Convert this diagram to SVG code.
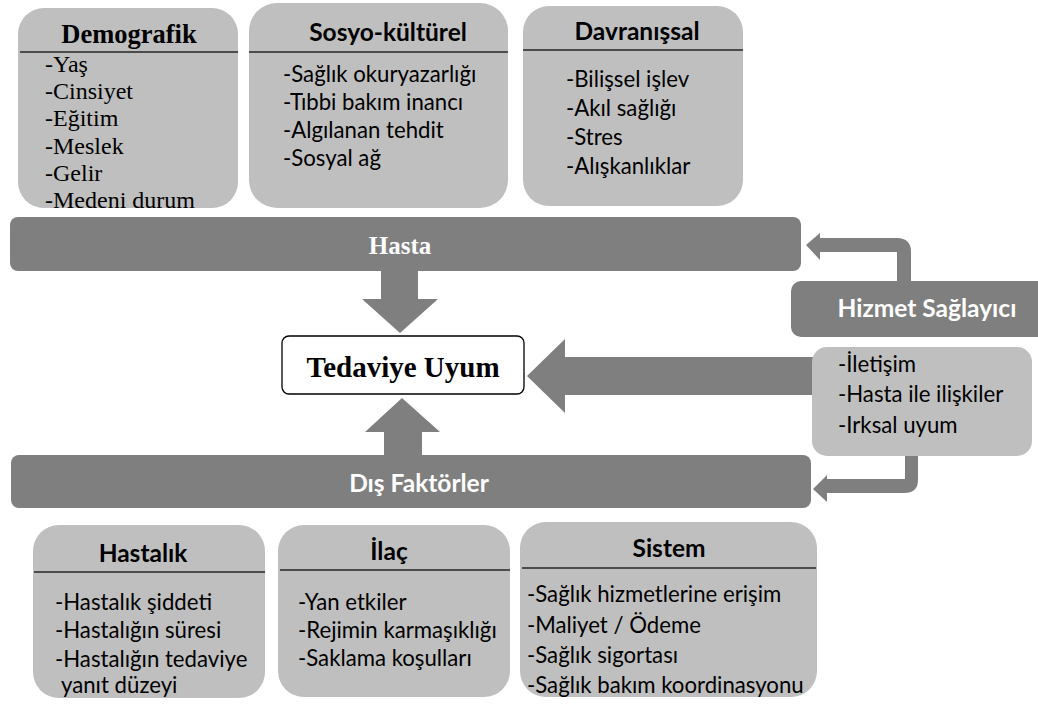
<svg xmlns="http://www.w3.org/2000/svg" width="1038" height="704" viewBox="0 0 1038 704">
  <style>
    .box { fill: #bfbfbf; }
    .bar { fill: #7f7f7f; }
    .div { stroke: #262626; stroke-width: 1.5; }
    .conn { fill: #7f7f7f; }
    .hd { font-family: "Lato", "Liberation Sans", sans-serif; font-weight: bold; font-size: 24.5px; fill: #000; text-anchor: middle; }
    .it { font-family: "Lato", "Liberation Sans", sans-serif; font-size: 22.2px; fill: #000; }
    .hdr { font-family: "Liberation Serif", serif; font-weight: bold; font-size: 26.5px; fill: #000; text-anchor: middle; }
    .itr { font-family: "Liberation Serif", serif; font-size: 24px; fill: #000; }
    .wb { font-family: "Lato", "Liberation Sans", sans-serif; font-weight: bold; font-size: 24.5px; fill: #fff; text-anchor: middle; }
  </style>

  <!-- connectors -->
  <g id="connectors">
    <!-- Hasta down to Tedaviye Uyum -->
    <polygon class="conn" points="381,270 418,270 418,299 438,299 400,333 362,299 381,299"/>
    <!-- Dis Faktorler up to Tedaviye Uyum -->
    <polygon class="conn" points="384,456 422,456 422,432 440,432 402,398 365,432 384,432"/>
    <!-- Hizmet Saglayici left to Tedaviye Uyum -->
    <polygon class="conn" points="815,357 565,357 565,339 527,376 565,413 565,395 815,395"/>
    <!-- Hizmet Saglayici feedback up to Hasta -->
    <path class="conn" d="M897,282 L897,252 L820,252 L820,260 L806,245 L820,233 L820,238 L897,238 Q911,238 911,252 L911,282 Z"/>
    <!-- Hizmet Saglayici feedback down to Dis Faktorler -->
    <path class="conn" d="M905,450 L905,479 L827,479 L827,475 L813,489 L827,502 L827,493 L904,493 Q918,493 918,480 L918,450 Z"/>
  </g>

  <!-- patient factors -->
  <g id="demografik">
    <rect class="box" x="18" y="8" width="220" height="200" rx="26"/>
    <line class="div" x1="20" y1="52" x2="238" y2="52"/>
    <text class="hdr" x="129" y="43">Demografik</text>
    <text class="itr" x="45" y="72">-Yaş</text>
    <text class="itr" x="45" y="99">-Cinsiyet</text>
    <text class="itr" x="45" y="126">-Eğitim</text>
    <text class="itr" x="45" y="154">-Meslek</text>
    <text class="itr" x="45" y="181">-Gelir</text>
    <text class="itr" x="45" y="208">-Medeni durum</text>
  </g>

  <g id="sosyo-kulturel">
    <rect class="box" x="249" y="3" width="259" height="205" rx="28"/>
    <line class="div" x1="249" y1="52" x2="508" y2="52"/>
    <text class="hd" x="388" y="41">Sosyo-kültürel</text>
    <text class="it" x="283" y="82">-Sağlık okuryazarlığı</text>
    <text class="it" x="283" y="110">-Tıbbi bakım inancı</text>
    <text class="it" x="283" y="138">-Algılanan tehdit</text>
    <text class="it" x="283" y="166">-Sosyal ağ</text>
  </g>

  <g id="davranissal">
    <rect class="box" x="523" y="6" width="220" height="200" rx="26"/>
    <line class="div" x1="523" y1="50" x2="743" y2="50"/>
    <text class="hd" x="637" y="40">Davranışsal</text>
    <text class="it" x="566" y="87">-Bilişsel işlev</text>
    <text class="it" x="566" y="116">-Akıl sağlığı</text>
    <text class="it" x="566" y="145">-Stres</text>
    <text class="it" x="566" y="174">-Alışkanlıklar</text>
  </g>

  <g id="hasta">
    <rect class="bar" x="10" y="217" width="791" height="54" rx="8"/>
    <text x="400" y="254" font-family="Liberation Serif, serif" font-weight="bold" font-size="25" fill="#fff" text-anchor="middle">Hasta</text>
  </g>

  <g id="tedaviye-uyum">
    <rect x="282" y="336" width="242" height="58" rx="7" fill="#fff" stroke="#000" stroke-width="1.3"/>
    <text x="403" y="377" font-family="Liberation Serif, serif" font-weight="bold" font-size="29" fill="#000" text-anchor="middle">Tedaviye Uyum</text>
  </g>

  <g id="hizmet-saglayici">
    <rect class="bar" x="791" y="281" width="260" height="56" rx="10"/>
    <text class="wb" x="927" y="317">Hizmet Sağlayıcı</text>
  </g>

  <g id="hizmet-ogeleri">
    <rect class="box" x="812" y="347" width="220" height="109" rx="15"/>
    <text class="it" x="838" y="372">-İletişim</text>
    <text class="it" x="838" y="402">-Hasta ile ilişkiler</text>
    <text class="it" x="838" y="433">-Irksal uyum</text>
  </g>

  <g id="dis-faktorler">
    <rect class="bar" x="11" y="455" width="800" height="53" rx="8"/>
    <text class="wb" x="419" y="492">Dış Faktörler</text>
  </g>

  <!-- external factors -->
  <g id="hastalik">
    <rect class="box" x="33" y="525" width="232" height="173" rx="26"/>
    <line class="div" x1="34" y1="572" x2="265" y2="572"/>
    <text class="hd" x="143" y="562">Hastalık</text>
    <text class="it" x="55" y="610">-Hastalık şiddeti</text>
    <text class="it" x="55" y="638">-Hastalığın süresi</text>
    <text class="it" x="55" y="667">-Hastalığın tedaviye</text>
    <text class="it" x="61" y="693">yanıt düzeyi</text>
  </g>

  <g id="ilac">
    <rect class="box" x="278" y="525" width="232" height="172" rx="26"/>
    <line class="div" x1="280" y1="570" x2="510" y2="570"/>
    <text class="hd" x="389" y="560">İlaç</text>
    <text class="it" x="298" y="610">-Yan etkiler</text>
    <text class="it" x="298" y="638">-Rejimin karmaşıklığı</text>
    <text class="it" x="298" y="666">-Saklama koşulları</text>
  </g>

  <g id="sistem">
    <rect class="box" x="520" y="522" width="297" height="175" rx="26"/>
    <line class="div" x1="522" y1="568" x2="816" y2="568"/>
    <text class="hd" x="669" y="557">Sistem</text>
    <text class="it" x="527" y="602">-Sağlık hizmetlerine erişim</text>
    <text class="it" x="527" y="633">-Maliyet / Ödeme</text>
    <text class="it" x="527" y="663">-Sağlık sigortası</text>
    <text class="it" x="527" y="693">-Sağlık bakım koordinasyonu</text>
  </g>
</svg>
